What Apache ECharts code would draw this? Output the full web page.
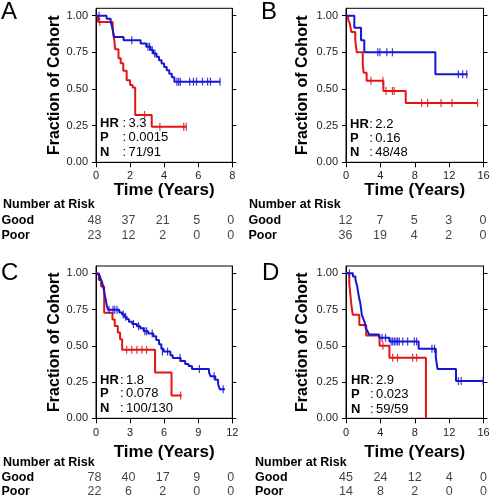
<!DOCTYPE html>
<html><head><meta charset="utf-8">
<script src="https://cdn.jsdelivr.net/npm/echarts@6/dist/echarts.min.js"></script>
<style>html,body{margin:0;padding:0;background:#fff}#c{width:492px;height:498px}</style>
</head><body><div id="c"></div>
<script>
// ---------------- DATA ----------------
// Panel A
const aGood = [[0,1],[0.62,0.979],[0.86,0.958],[0.96,0.917],[1.06,0.854],[1.62,0.833],[2.62,0.81],[2.95,0.788],[3.2,0.765],[3.35,0.742],[3.55,0.719],[3.7,0.696],[3.85,0.673],[4.0,0.65],[4.15,0.627],[4.3,0.604],[4.45,0.58],[4.6,0.55],[7.3,0.55]];
const aGoodCens = [[0.18,1],[2.1,0.833],[3.05,0.788],[3.15,0.788],[3.3,0.765],[3.45,0.742],[4.75,0.55],[4.85,0.55],[4.95,0.55],[5.5,0.55],[5.72,0.55],[5.9,0.55],[6.25,0.55],[6.55,0.55],[6.72,0.55],[7.28,0.55]];
const aPoor = [[0,1],[0.12,0.957],[0.98,0.913],[1.02,0.87],[1.08,0.826],[1.13,0.77],[1.32,0.71],[1.45,0.675],[1.6,0.625],[1.8,0.56],[2.0,0.527],[2.15,0.51],[2.3,0.323],[3.27,0.243],[5.3,0.243]];
const aPoorCens = [[0.22,0.957],[2.85,0.323],[3.75,0.243],[5.15,0.243],[5.3,0.243]];
const aTicks = [0,2,4,6,8];
const aGoodRisk = [48,37,21,5,0];
const aPoorRisk = [23,12,2,0,0];
const aStats = ['3.3','0.0015','71/91'];
// Panel B
const bGood = [[0,1],[0.97,0.917],[1.75,0.833],[2.13,0.75],[10.4,0.6],[14.15,0.6]];
const bGoodCens = [[3.7,0.75],[3.95,0.75],[4.75,0.75],[5.4,0.75],[13.07,0.6],[13.58,0.6],[14.05,0.6]];
const bPoor = [[0,1],[0.25,0.972],[0.45,0.944],[0.62,0.889],[1.08,0.833],[1.25,0.75],[1.95,0.667],[2.05,0.611],[2.4,0.556],[4.35,0.486],[6.95,0.405],[15.3,0.405]];
const bPoorCens = [[2.9,0.556],[4.3,0.556],[4.65,0.486],[5.4,0.486],[5.6,0.486],[8.8,0.405],[9.5,0.405],[11.06,0.405],[12.33,0.405],[15.3,0.405]];
const bTicks = [0,4,8,12,16];
const bGoodRisk = [12,7,5,3,0];
const bPoorRisk = [36,19,4,2,0];
const bStats = ['2.2','0.16','48/48'];
// Panel C
const cGood = [[0,1],[0.15,0.987],[0.3,0.974],[0.45,0.955],[0.55,0.935],[0.65,0.9],[0.75,0.86],[0.85,0.82],[0.95,0.78],[1.05,0.748],[2.05,0.73],[2.3,0.715],[2.5,0.7],[2.7,0.685],[2.9,0.665],[3.2,0.65],[3.6,0.635],[3.9,0.62],[4.2,0.6],[4.6,0.585],[5.05,0.565],[5.3,0.54],[5.55,0.51],[5.75,0.48],[5.95,0.46],[6.55,0.435],[6.75,0.415],[7.45,0.395],[7.85,0.375],[8.15,0.36],[8.45,0.34],[9.95,0.315],[10.1,0.29],[10.5,0.265],[10.75,0.235],[10.9,0.2],[11.35,0.2]];
const cGoodCens = [[0.3,0.974],[1.15,0.748],[1.5,0.748],[1.65,0.748],[1.85,0.748],[2.4,0.715],[2.6,0.7],[3.3,0.65],[3.75,0.635],[4.3,0.6],[4.45,0.6],[4.95,0.585],[5.85,0.46],[6.3,0.46],[7.4,0.415],[9.1,0.34],[10.4,0.29],[11.2,0.2]];
const cPoor = [[0,1],[0.25,0.955],[0.45,0.909],[0.72,0.727],[1.45,0.682],[1.65,0.636],[1.92,0.591],[2.12,0.545],[2.3,0.472],[5.2,0.315],[6.65,0.157],[7.55,0.157]];
const cPoorCens = [[2.7,0.472],[3.15,0.472],[3.6,0.472],[4.05,0.472],[4.45,0.472],[7.45,0.157]];
const cTicks = [0,3,6,9,12];
const cGoodRisk = [78,40,17,9,0];
const cPoorRisk = [22,6,2,0,0];
const cStats = ['1.8','0.078','100/130'];
// Panel D
const dGood = [[0,1],[0.8,0.978],[1.1,0.956],[1.3,0.911],[1.42,0.867],[1.55,0.822],[1.65,0.8],[1.75,0.756],[1.85,0.711],[2.0,0.689],[2.15,0.667],[2.3,0.622],[2.5,0.6],[2.7,0.578],[3.85,0.556],[5.05,0.53],[8.45,0.48],[10.45,0.42],[10.65,0.34],[12.8,0.258],[16,0.258]];
const dGoodCens = [[0.4,1],[4.2,0.556],[4.6,0.556],[5.24,0.53],[5.43,0.53],[5.62,0.53],[5.82,0.53],[6.0,0.53],[6.2,0.53],[6.6,0.53],[7.17,0.53],[7.95,0.53],[8.22,0.53],[10.0,0.48],[10.3,0.48],[13.07,0.258],[13.4,0.258],[15.95,0.258]];
const dPoor = [[0,1],[0.38,0.929],[0.5,0.857],[0.62,0.786],[0.78,0.714],[1.55,0.643],[2.35,0.571],[3.9,0.5],[5.05,0.417],[9.3,0]];
const dPoorCens = [[4.3,0.5],[5.43,0.417],[6.0,0.417],[7.76,0.417],[8.22,0.417]];
const dTicks = [0,4,8,12,16];
const dGoodRisk = [45,24,12,4,0];
const dPoorRisk = [14,8,2,0,0];
const dStats = ['2.9','0.023','59/59'];

const yTicks = [0,0.25,0.5,0.75,1];
const rowNames = ['Good','Poor'];
const statNames = ['HR','P','N'];

// ---------------- LAYOUT ----------------
const FONT = '"Liberation Sans", Arial, Helvetica, sans-serif';
const BLUE = '#1515d2';
const RED = '#e41414';

const panels = [
  {letter:'A', good:aGood, goodCens:aGoodCens, poor:aPoor, poorCens:aPoorCens, ticks:aTicks, goodRisk:aGoodRisk, poorRisk:aPoorRisk, stats:aStats,
   grid:{left:96, top:8.3, width:136.3, height:154}, xMax:8, xInt:2, labelMargin:8, nameGapX:19, nameGapY:33,
   letterPos:[1,12], statX:100, colonX:122.5, statY:[123,137.5,152],
   nar:{x:3, y:205}, table:{top:213.5, height:29, shift:-1.5, rowMargin:93}},
  {letter:'B', good:bGood, goodCens:bGoodCens, poor:bPoor, poorCens:bPoorCens, ticks:bTicks, goodRisk:bGoodRisk, poorRisk:bPoorRisk, stats:bStats,
   grid:{left:346, top:8.3, width:137.5, height:154}, xMax:16, xInt:4, labelMargin:8, nameGapX:19, nameGapY:35,
   letterPos:[261,12], statX:350, colonX:369.3, statY:[124,138,152.5],
   nar:{x:249, y:205}, table:{top:213.5, height:29, shift:-0.5, rowMargin:97}},
  {letter:'C', good:cGood, goodCens:cGoodCens, poor:cPoor, poorCens:cPoorCens, ticks:cTicks, goodRisk:cGoodRisk, poorRisk:cPoorRisk, stats:cStats,
   grid:{left:96, top:266, width:136.3, height:152.3}, xMax:12, xInt:3, labelMargin:9, nameGapX:26, nameGapY:33,
   letterPos:[1,273], statX:100, colonX:120, statY:[380.3,393.8,408.7],
   nar:{x:3, y:463}, table:{top:471, height:27, shift:-1.5, rowMargin:93}},
  {letter:'D', good:dGood, goodCens:dGoodCens, poor:dPoor, poorCens:dPoorCens, ticks:dTicks, goodRisk:dGoodRisk, poorRisk:dPoorRisk, stats:dStats,
   grid:{left:346, top:266, width:137.5, height:152.3}, xMax:16, xInt:4, labelMargin:9, nameGapX:26, nameGapY:35,
   letterPos:[262,273], statX:351, colonX:370, statY:[380,394,409],
   nar:{x:255, y:463}, table:{top:471, height:27, shift:0, rowMargin:91}}
];

const grid = [], xAxis = [], yAxis = [], series = [], graphic = [];

function txt(x, y, text, font, align) {
  return {type:'text', x:x, y:y, silent:true,
    style:{text:text, font:font, fill:'#000', align:align||'left', verticalAlign:'middle', textAlign:align||'left', textVerticalAlign:'middle'}};
}

panels.forEach(function(p){
  // plot grid
  const gi = grid.length;
  grid.push(Object.assign({show:true, borderColor:'#000', borderWidth:1, backgroundColor:'transparent', containLabel:false, outerBoundsMode:'none'}, p.grid));
  const xi = xAxis.length;
  xAxis.push({gridIndex:gi, type:'value', min:0, max:p.xMax, interval:p.xInt,
    axisLine:{show:true, lineStyle:{color:'#000', width:1}},
    axisTick:{show:true, inside:false, length:5, lineStyle:{color:'#000'}},
    axisLabel:{show:true, fontSize:11, color:'#222', margin:p.labelMargin, fontFamily:FONT},
    splitLine:{show:false},
    name:'Time (Years)', nameLocation:'middle', nameGap:p.nameGapX,
    nameTextStyle:{fontSize:17, fontWeight:'bold', color:'#000', fontFamily:FONT}});
  const yi = yAxis.length;
  yAxis.push({gridIndex:gi, type:'value', min:0, max:1.05, interval:0.25, position:'left',
    axisLine:{show:true, lineStyle:{color:'#000', width:1}},
    axisTick:{show:true, inside:false, length:4, lineStyle:{color:'#000'}, customValues:yTicks},
    axisLabel:{show:true, fontSize:11, color:'#222', margin:8, fontFamily:FONT, customValues:yTicks,
      formatter:function(v){return Number(v).toFixed(2);}},
    splitLine:{show:false},
    name:'Fraction of Cohort', nameLocation:'middle', nameGap:p.nameGapY,
    nameTextStyle:{fontSize:16, fontWeight:'bold', color:'#000', fontFamily:FONT}});
  yAxis.push({gridIndex:gi, type:'value', min:0, max:1.05, interval:0.25, position:'right',
    axisLine:{show:true, lineStyle:{color:'#000', width:1}},
    axisTick:{show:true, inside:false, length:4, lineStyle:{color:'#000'}, customValues:yTicks},
    axisLabel:{show:false}, splitLine:{show:false}});

  [[p.poor, RED],[p.good, BLUE]].forEach(function(s){
    series.push({type:'line', xAxisIndex:xi, yAxisIndex:yi, data:s[0], step:'end', showSymbol:false, symbol:'none',
      lineStyle:{color:s[1], width:2}, itemStyle:{color:s[1]}, silent:true, z:3});
  });
  [[p.poorCens, RED],[p.goodCens, BLUE]].forEach(function(s){
    series.push({type:'scatter', xAxisIndex:xi, yAxisIndex:yi, data:s[0], symbol:'rect', symbolSize:[1.2,8],
      itemStyle:{color:s[1], opacity:0.85}, silent:true, z:4});
  });

  // letter
  graphic.push(txt(p.letterPos[0], p.letterPos[1], p.letter, '24px ' + FONT));
  // stats
  statNames.forEach(function(n, k){
    graphic.push(txt(p.statX, p.statY[k], n, 'bold 13px ' + FONT));
    graphic.push(txt(p.colonX, p.statY[k], ':', '13px ' + FONT));
    graphic.push(txt(p.colonX + 6, p.statY[k], p.stats[k], '13px ' + FONT));
  });
  // number at risk header
  graphic.push(txt(p.nar.x, p.nar.y, 'Number at Risk', 'bold 12.5px ' + FONT));

  // number-at-risk table grid
  const tg = grid.length;
  grid.push({show:false, left:p.grid.left + p.table.shift, width:p.grid.width, top:p.table.top, height:p.table.height, containLabel:false, outerBoundsMode:'none'});
  const txi = xAxis.length;
  xAxis.push({gridIndex:tg, type:'value', min:0, max:p.xMax, show:false});
  const tyi = yAxis.length;
  yAxis.push({gridIndex:tg, type:'category', data:rowNames, inverse:true,
    axisLine:{show:false}, axisTick:{show:false}, splitLine:{show:false},
    axisLabel:{show:true, interval:0, hideOverlap:false, align:'left', margin:p.table.rowMargin, fontWeight:'bold', fontSize:12.5, color:'#000', fontFamily:FONT}});
  const tdata = [];
  p.ticks.forEach(function(t, k){
    tdata.push([t, rowNames[0], p.goodRisk[k]]);
    tdata.push([t, rowNames[1], p.poorRisk[k]]);
  });
  series.push({type:'scatter', xAxisIndex:txi, yAxisIndex:tyi, data:tdata, symbolSize:1, clip:false,
    itemStyle:{color:'rgba(0,0,0,0)'}, silent:true,
    label:{show:true, position:'inside', formatter:function(q){return String(q.value[2]);}, fontSize:12.5, color:'#111', fontFamily:FONT}});
});

const chart = echarts.init(document.getElementById('c'), null, {renderer:'canvas'});
chart.setOption({
  animation:false,
  backgroundColor:'#fff',
  textStyle:{fontFamily:FONT},
  grid:grid, xAxis:xAxis, yAxis:yAxis, series:series, graphic:graphic
});
</script></body></html>
